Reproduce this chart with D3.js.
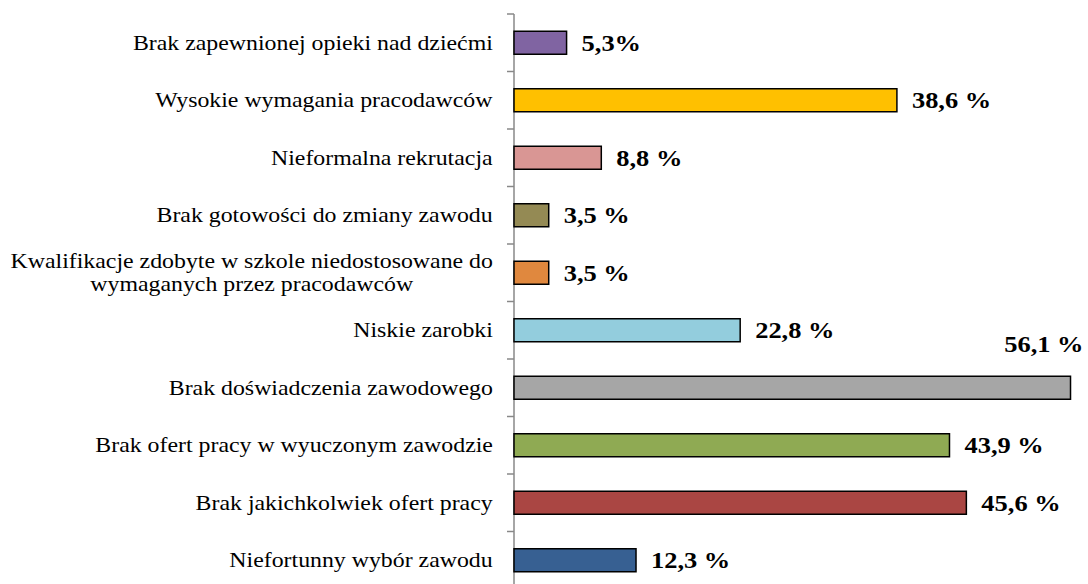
<!DOCTYPE html>
<html>
<head>
<meta charset="utf-8">
<script src="https://cdn.jsdelivr.net/npm/d3@7"></script>
<style>
  html, body { margin: 0; padding: 0; background: #fff; }
  svg { display: block; }
</style>
</head>
<body>
<svg id="chart" width="1088" height="584"></svg>
<script>
// Categories, listed top to bottom
const categories = [
  "Brak zapewnionej opieki nad dziećmi",
  "Wysokie wymagania pracodawców",
  "Nieformalna rekrutacja",
  "Brak gotowości do zmiany zawodu",
  "Kwalifikacje zdobyte w szkole niedostosowane do\nwymaganych przez pracodawców",
  "Niskie zarobki",
  "Brak doświadczenia zawodowego",
  "Brak ofert pracy w wyuczonym zawodzie",
  "Brak jakichkolwiek ofert pracy",
  "Niefortunny wybór zawodu"
];
// Share of answers, percent
const values = [5.3, 38.6, 8.8, 3.5, 3.5, 22.8, 56.1, 43.9, 45.6, 12.3];
// Value labels as printed
const valueLabels = ["5,3%", "38,6 %", "8,8 %", "3,5 %", "3,5 %", "22,8 %", "56,1 %", "43,9 %", "45,6 %", "12,3 %"];
const colors = ["#8064A2", "#FFC000", "#D99694", "#948A54", "#E0883E",
                "#93CDDD", "#A6A6A6", "#8FAA53", "#AA4643", "#376092"];

const svg = d3.select("#chart");
const axisX = 514;
const catStretch = 1.135;   // category text is set slightly wide
const valStretch = 1.15;    // so are the value labels
const serif = "'Liberation Serif', 'Times New Roman', serif";

const x = d3.scaleLinear().domain([0, 60]).range([axisX, axisX + 595.2]);
const y = d3.scaleBand().domain(categories).range([14, 589]).paddingInner(0.6).paddingOuter(0.3);

const band = y.step();

// Category axis line and tick marks between categories
svg.append("line")
  .attr("x1", axisX).attr("x2", axisX)
  .attr("y1", 14).attr("y2", 589)
  .attr("stroke", "#888").attr("stroke-width", 1.5);

const tickYs = d3.range(categories.length + 1).map(i => 14 + i * band);
svg.selectAll("line.tick").data(tickYs).enter().append("line")
  .attr("class", "tick")
  .attr("x1", axisX - 7).attr("x2", axisX)
  .attr("y1", d => d).attr("y2", d => d)
  .attr("stroke", "#888").attr("stroke-width", 1.5);

// Bars
svg.selectAll("rect.bar").data(values).enter().append("rect")
  .attr("class", "bar")
  .attr("x", x(0))
  .attr("y", (d, i) => y(categories[i]))
  .attr("width", d => x(d) - x(0))
  .attr("height", y.bandwidth())
  .attr("fill", (d, i) => colors[i])
  .attr("stroke", "#000").attr("stroke-width", 1.5);

// Category labels (right aligned block, lines centred on each other)
categories.forEach((c, i) => {
  const lines = c.split("\n");
  const cy = y(c) + y.bandwidth() / 2;
  const lh = 22.5;
  const g = svg.append("g");
  const t = g.append("text")
    .attr("font-family", serif).attr("font-size", 21).attr("fill", "#000")
    .attr("text-anchor", "middle");
  lines.forEach((ln, k) => {
    t.append("tspan").attr("x", 0)
      .attr("y", cy + 7 + (k - (lines.length - 1) / 2) * lh)
      .text(ln);
  });
  const w = t.node().getBBox().width * catStretch;
  g.attr("transform", `translate(${493 - w / 2},0) scale(${catStretch},1)`);
});

// Value labels
values.forEach((d, i) => {
  const cy = y(categories[i]) + y.bandwidth() / 2;
  const above = i === 6;
  const g = svg.append("g")
    .attr("transform", `translate(${above ? x(d) + 13 : x(d) + 15},${above ? cy - 36 : cy + 8}) scale(${valStretch},1)`);
  g.append("text")
    .attr("font-family", serif).attr("font-size", 23).attr("font-weight", "bold").attr("fill", "#000")
    .attr("text-anchor", above ? "end" : "start")
    .text(valueLabels[i]);
});
</script>
</body>
</html>
